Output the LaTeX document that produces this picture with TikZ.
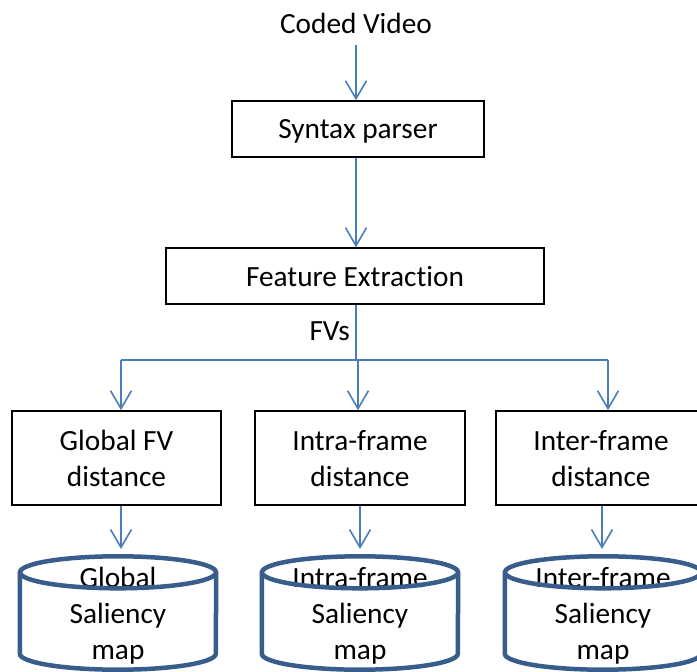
\documentclass[tikz,border=0pt]{standalone}
\usepackage{fontspec}
\setmainfont{Carlito}[Ligatures=NoCommon]
\usetikzlibrary{arrows.meta,calc}
\definecolor{arrowblue}{HTML}{4A7EBB}
\definecolor{cylblue}{HTML}{385D8A}
\tikzset{
  txt/.style={font=\fontsize{29.3}{36}\selectfont, align=center, inner sep=0pt, text depth=0pt},
  boxnode/.style={txt, draw=black, line width=1.5pt, minimum width=#1},
  conn/.style={draw=arrowblue, line width=1.6pt, -{Straight Barb[length=18pt,width=21pt,line width=1.6pt]}},
  plainconn/.style={draw=arrowblue, line width=1.6pt},
  cylline/.style={draw=cylblue, line width=4.5pt},
  cylnode/.style={txt, minimum width=196pt, minimum height=113pt}
}
\begin{document}
\begin{tikzpicture}[x=1pt,y=-1pt]
\useasboundingbox (0,0) rectangle (697,672);
\clip (0,0) rectangle (697,672);
\fill[white] (0,0) rectangle (697,672);

\node[txt] (cv) at (356,23) {Coded Video};
\node[boxnode=252pt, minimum height=56pt] (sp) at (358,129) {Syntax parser};
\node[boxnode=378pt, minimum height=56pt] (fe) at (355,276) {Feature Extraction};

\node[boxnode=209pt, minimum height=94pt] (gd) at (116.5,458) {Global FV\\distance};
\node[boxnode=210pt, minimum height=94pt] (ad) at (360,458) {Intra-frame\\distance};
\node[boxnode=210pt, minimum height=94pt] (ed) at (601,458) {Inter-frame\\distance};

\node[cylnode] (gc) at (118,613) {Global\\Saliency\\map};
\node[cylnode] (ac) at (360,613) {Intra-frame\\Saliency\\map};
\node[cylnode] (ec) at (603,613) {Inter-frame\\Saliency\\map};

\foreach \n in {gc,ac,ec}{
  \draw[cylline] ([yshift=-16pt]\n.north west) -- ([yshift=16pt]\n.south west)
     arc[start angle=180,end angle=360,x radius=98pt,y radius=16pt]
     -- ([yshift=-16pt]\n.north east);
  \draw[cylline] ([yshift=-16pt]\n.north) ellipse[x radius=98pt, y radius=16pt];
}

% connectors
\coordinate (cvb) at (356,45);
\draw[conn] (cvb) -- (cvb |- sp.north);
\draw[conn] (sp.south -| 356,0) -- (fe.north -| 356,0);
\coordinate (split) at (356,360);
\coordinate (sl) at (121,360);
\coordinate (sm) at (358,360);
\coordinate (sr) at (608,360);
\draw[plainconn] (fe.south -| split) -- (split);
\draw[plainconn] (sl) -- (sr);
\draw[conn] (sl) -- (sl |- gd.north);
\draw[conn] (sm) -- (sm |- ad.north);
\draw[conn] (sr) -- (sr |- ed.north);
\node[txt, anchor=east] (fv) at (350,331) {FVs};

\draw[conn] (gd.south -| 121,0) -- (121,549);
\draw[conn] (ad.south -| 360,0) -- (360,549);
\draw[conn] (ed.south -| 602,0) -- (602,549);
\end{tikzpicture}
\end{document}
